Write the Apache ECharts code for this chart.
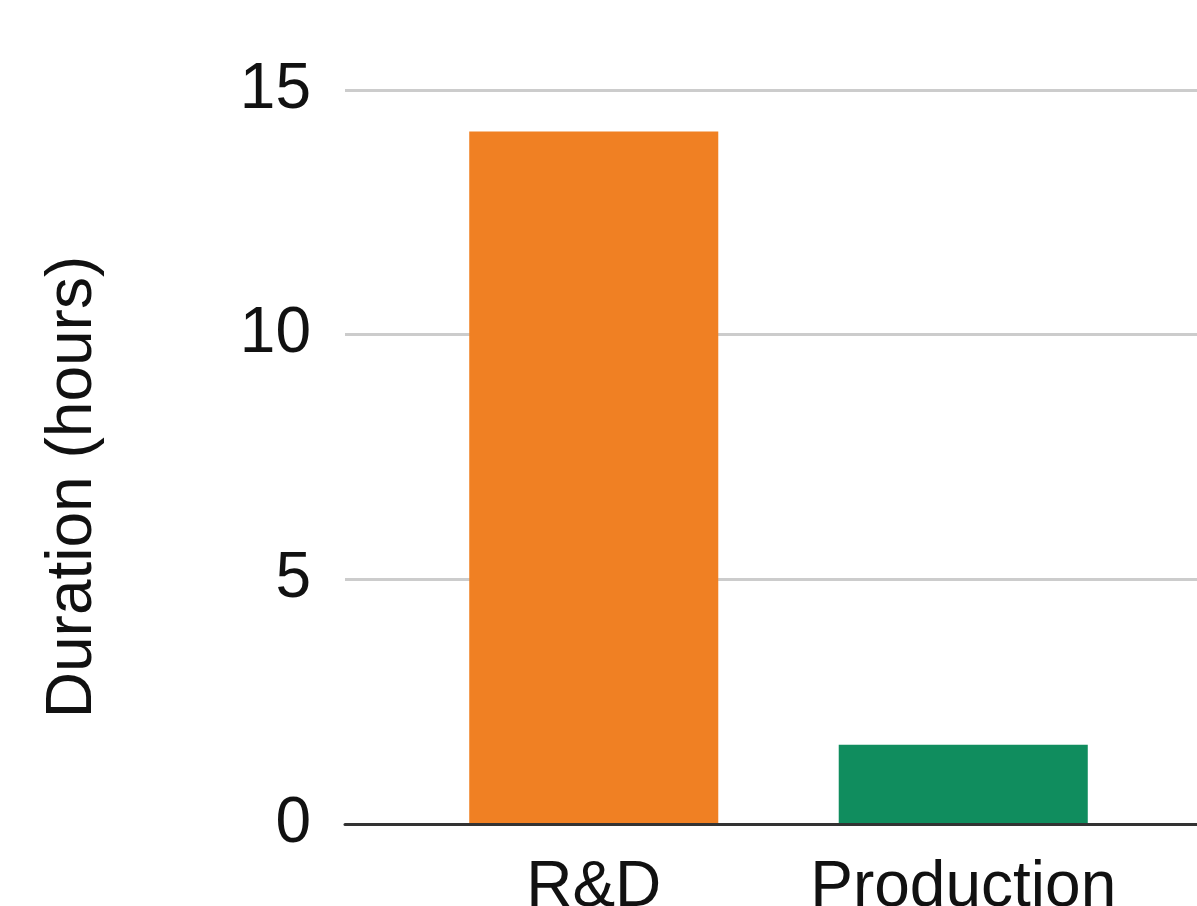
<!DOCTYPE html>
<html>
<head>
<meta charset="utf-8">
<script src="https://cdn.jsdelivr.net/npm/echarts@6/dist/echarts.min.js"></script>
<style>
html,body{margin:0;padding:0;background:#fff;}
#main{width:1197px;height:906px;}
</style>
</head>
<body>
<div id="main"></div>
<script>
const categories = ['R&D', 'Production'];
const durations = [14.15, 1.62];
const barColors = ['#F08023', '#108D5E'];
const yTicks = { min: 0, max: 15, interval: 5 };
const yAxisTitle = 'Duration (hours)';

const font = '"Liberation Sans", Arial, sans-serif';
const chart = echarts.init(document.getElementById('main'));
chart.setOption({
  animation: false,
  backgroundColor: '#ffffff',
  grid: [
    { left: 345, top: 90, bottom: 82, right: -30, containLabel: false, outerBoundsMode: 'none' },
    { left: 409, top: 90, bottom: 82, width: 739, containLabel: false, outerBoundsMode: 'none' }
  ],
  xAxis: [
    { gridIndex: 0, type: 'value', min: 0, max: 1, z: 10,
      axisLine: { show: true, lineStyle: { color: '#333333', width: 3 } },
      axisTick: { show: false }, axisLabel: { show: false }, splitLine: { show: false } },
    { gridIndex: 1, type: 'category', data: categories,
      axisLine: { show: false }, axisTick: { show: false },
      axisLabel: { fontSize: 64, fontFamily: font, color: '#111111', margin: 32, interval: 0, hideOverlap: false } }
  ],
  yAxis: [
    { gridIndex: 0, type: 'value', min: yTicks.min, max: yTicks.max, interval: yTicks.interval,
      axisLine: { show: false }, axisTick: { show: false },
      axisLabel: { fontSize: 64, fontFamily: font, color: '#111111', margin: 34 },
      splitLine: { show: true, lineStyle: { color: '#cccccc', width: 3 } },
      name: yAxisTitle, nameLocation: 'middle', nameGap: 240,
      nameTextStyle: { fontSize: 64, fontFamily: font, color: '#111111', padding: [0, 60, 0, 0] } },
    { gridIndex: 1, type: 'value', min: yTicks.min, max: yTicks.max, show: false }
  ],
  series: [{
    type: 'bar',
    xAxisIndex: 1, yAxisIndex: 1,
    barWidth: '67.4%',
    data: durations.map((v, i) => ({ value: v, itemStyle: { color: barColors[i] } }))
  }]
});
</script>
</body>
</html>
